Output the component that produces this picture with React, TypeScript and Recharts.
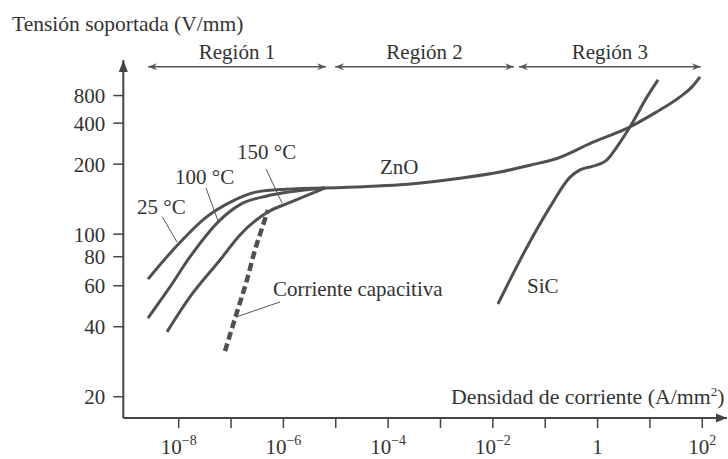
import React from 'react';
import { LineChart, Line, XAxis, YAxis, ReferenceLine, ReferenceDot } from 'recharts';

// ---- data (current density in A/mm², withstand voltage in V/mm) ----
const c25X = [2.59e-9, 7.78e-9, 3.47e-8, 9.55e-8, 3.13e-7, 1.07e-6, 6.22e-6];
const c25V = [64.1, 85.5, 119, 137, 152, 156, 158];

const c100X = [2.59e-9, 6.82e-9, 1.64e-8, 6.15e-8, 1.48e-7, 4.85e-7, 1.34e-6, 6.22e-6];
const c100V = [43.6, 59.3, 79.8, 115, 134, 146, 152, 158];

const c150X = [5.98e-9, 1.64e-8, 6.15e-8, 1.48e-7, 4.85e-7, 1.34e-6, 6.22e-6];
const c150V = [38.0, 53.7, 77.4, 99.2, 124, 137, 158];

const capX = [7.66e-8, 1.3e-7, 2.01e-7, 2.86e-7, 3.9e-7, 5.08e-7];
const capV = [31.4, 46.3, 63.5, 85.5, 106, 127];

const znoX = [6.22e-6, 3.46e-5, 1.69e-4, 2.36e-3, 1.37e-2, 5.13e-2, 0.168, 0.818, 4.17, 12.5, 37.6, 63.7, 90.6];
const znoV = [158, 160, 163, 174, 185, 198, 220, 290, 376, 518, 774, 995, 1280];

const sicX = [1.25e-2, 4.5e-2, 0.124, 0.298, 0.462, 0.818, 1.51, 2.35, 4.17, 8.81, 14.3];
const sicV = [50.1, 88.1, 131, 176, 189, 196, 215, 268, 376, 774, 1187];

const xTicks = [1e-8, 1e-7, 1e-6, 1e-5, 1e-4, 1e-3, 1e-2, 1e-1, 1, 10, 100];
const yTickValues = [20, 40, 60, 80, 100, 200, 400, 800];

const regionLabels = ['Región 1', 'Región 2', 'Región 3'];
const regionStart = [2.6e-9, 9.7e-6, 0.0315];
const regionEnd = [6.5e-6, 0.0254, 94];
const regionLevel = 1650;

const curveLabels = ['25 °C', '100 °C', '150 °C', 'ZnO', 'SiC', 'Corriente capacitiva'];
const curveLabelX = [1.6e-9, 8.5e-9, 1.3e-7, 7.0e-5, 0.045, 6.3e-7];
const curveLabelV = [122.7, 165, 217, 182, 56, 54];

const leaderX1 = [4.84e-9, 3.32e-8, 4.65e-7, 8.6e-7];
const leaderV1 = [119, 158, 191, 51.1];
const leaderX2 = [9.3e-9, 5.64e-8, 9.4e-7, 1.24e-7];
const leaderV2 = [92.5, 114, 136, 44.0];

// ---- axis scale for the (non-uniform) logarithmic voltage axis ----
const L10 = Math.log2(10);
const f = (v: number) => {
  const L = Math.log2(v);
  if (v <= 200) return L - Math.log2(20);
  if (v <= 400) return L10 + (L - Math.log2(200)) * 0.586;
  return L10 + 0.586 + (L - Math.log2(400)) * 0.394;
};

const xDomain = [8.75e-10, 296.5];
const yDomain = [-0.304, 4.81];

const pts = (xs: number[], vs: number[]) => xs.map((x, i) => ({ x, y: f(vs[i]) }));

const FONT = '"Liberation Serif", "Times New Roman", serif';
const INK = '#333';
const CURVE = '#505050';

const XTick = (props: any) => {
  const { x, y, payload } = props;
  const e = Math.round(Math.log10(payload.value));
  if (e % 2 !== 0) return <g />;
  if (e === 0)
    return (
      <text x={x} y={y + 26} textAnchor="middle" fontFamily={FONT} fontSize={21} fill={INK}>1</text>
    );
  const sup = e < 0 ? '\u2212' + Math.abs(e) : String(e);
  return (
    <text x={x} y={y + 26} textAnchor="middle" fontFamily={FONT} fontSize={21} fill={INK}>
      10<tspan dy={-9} fontSize={14}>{sup}</tspan>
    </text>
  );
};

const yLabel = (t: number) => {
  const i = yTickValues.findIndex((v) => Math.abs(f(v) - t) < 1e-6);
  return i >= 0 ? String(yTickValues[i]) : '';
};

const regionShape = (label: string) => (p: any) => {
  const { x1, y1, x2 } = p;
  const y = y1;
  return (
    <g>
      <line x1={x1} y1={y} x2={x2} y2={y} stroke="#555" strokeWidth={1.3} />
      <polygon points={`${x1},${y} ${x1 + 9},${y - 3.5} ${x1 + 6},${y} ${x1 + 9},${y + 3.5}`} fill="#555" />
      <polygon points={`${x2},${y} ${x2 - 9},${y - 3.5} ${x2 - 6},${y} ${x2 - 9},${y + 3.5}`} fill="#555" />
      <text x={(x1 + x2) / 2} y={y - 8} textAnchor="middle" fontFamily={FONT} fontSize={21} fill={INK}>{label}</text>
    </g>
  );
};

const textShape = (label: string) => (p: any) => (
  <text x={p.cx} y={p.cy} fontFamily={FONT} fontSize={21} fill={INK}>{label}</text>
);

const arrowRight = (p: any) => (
  <polygon points={`${p.cx},${p.cy} ${p.cx - 11},${p.cy - 4.5} ${p.cx - 11},${p.cy + 4.5}`} fill="#444" />
);
const arrowUp = (p: any) => (
  <polygon points={`${p.cx},${p.cy} ${p.cx - 4.5},${p.cy + 12} ${p.cx + 4.5},${p.cy + 12}`} fill="#444" />
);

export default function App() {
  const lineProps = { dataKey: 'y', stroke: CURVE, strokeWidth: 3, dot: false, isAnimationActive: false, type: 'monotone' as const };
  return (
    <div style={{ position: 'absolute', left: 0, top: 0, width: 728, height: 459, background: '#fff' }}>
      <LineChart width={728} height={459} margin={{ top: 60, right: 1, bottom: 0, left: 0 }}>
        <XAxis
          dataKey="x"
          type="number"
          scale="log"
          domain={xDomain}
          allowDataOverflow
          ticks={xTicks}
          interval={0}
          height={41}
          tickSize={10}
          tickMargin={0}
          axisLine={{ stroke: '#444', strokeWidth: 2 }}
          tickLine={{ stroke: '#444', strokeWidth: 1.5 }}
          tick={<XTick />}
        />
        <YAxis
          type="number"
          domain={yDomain}
          allowDataOverflow
          ticks={yTickValues.map(f)}
          interval={0}
          width={123.3}
          tickSize={10}
          tickMargin={8}
          tickFormatter={yLabel}
          axisLine={{ stroke: '#444', strokeWidth: 2 }}
          tickLine={{ stroke: '#444', strokeWidth: 1.5 }}
          tick={{ fontFamily: FONT, fontSize: 21, fill: INK }}
        />
        <Line {...lineProps} data={pts(c25X, c25V)} />
        <Line {...lineProps} data={pts(c100X, c100V)} />
        <Line {...lineProps} data={pts(c150X, c150V)} />
        <Line {...lineProps} data={pts(znoX, znoV)} />
        <Line {...lineProps} data={pts(sicX, sicV)} />
        <Line {...lineProps} data={pts(capX, capV)} strokeWidth={4.5} strokeDasharray="8 4" />
        {leaderX1.map((x, i) => (
          <ReferenceLine
            key={'ld' + i}
            segment={[{ x, y: f(leaderV1[i]) }, { x: leaderX2[i], y: f(leaderV2[i]) }]}
            stroke="#555"
            strokeWidth={1}
            ifOverflow="visible"
          />
        ))}
        {regionLabels.map((lab, i) => (
          <ReferenceLine
            key={'rg' + i}
            segment={[{ x: regionStart[i], y: f(regionLevel) }, { x: regionEnd[i], y: f(regionLevel) }]}
            shape={regionShape(lab)}
            ifOverflow="visible"
          />
        ))}
        {curveLabels.map((lab, i) => (
          <ReferenceDot
            key={'cl' + i}
            x={curveLabelX[i]}
            y={f(curveLabelV[i])}
            r={0}
            shape={textShape(lab)}
            ifOverflow="visible"
          />
        ))}
        <ReferenceDot x={xDomain[1]} y={yDomain[0]} r={0} shape={arrowRight} ifOverflow="visible" />
        <ReferenceDot x={xDomain[0]} y={yDomain[1]} r={0} shape={arrowUp} ifOverflow="visible" />
      </LineChart>
      <svg width={728} height={459} style={{ position: 'absolute', left: 0, top: 0, pointerEvents: 'none' }}>
        <text x={12} y={31} fontFamily={FONT} fontSize={21.5} fill={INK}>Tensión soportada (V/mm)</text>
        <text x={451} y={404} fontFamily={FONT} fontSize={21.8} fill={INK}>
          Densidad de corriente (A/mm<tspan dy={-8} fontSize={13}>2</tspan><tspan dy={8}>)</tspan>
        </text>
      </svg>
    </div>
  );
}
